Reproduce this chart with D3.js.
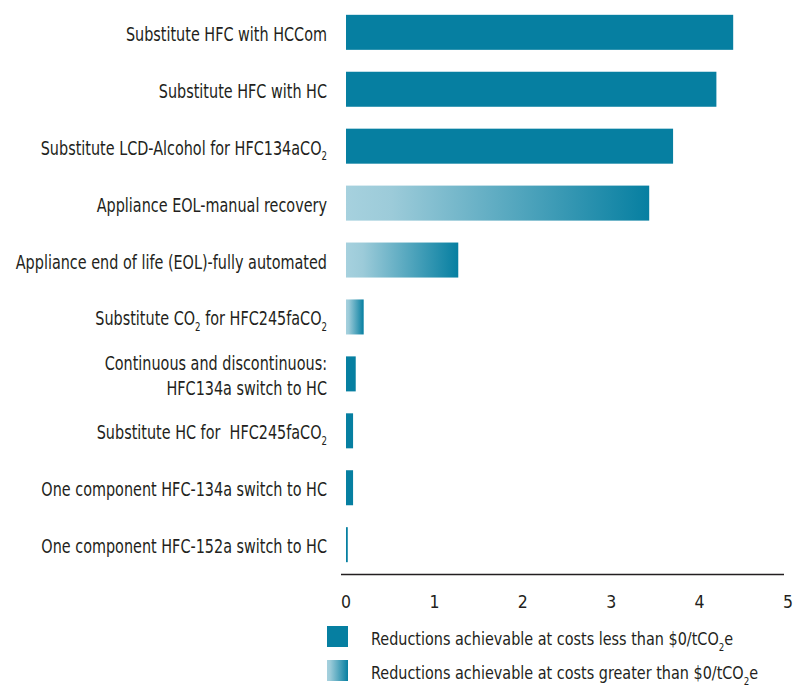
<!DOCTYPE html>
<html><head><meta charset="utf-8">
<script src="https://cdn.jsdelivr.net/npm/d3@7"></script>
<style>
body{margin:0;background:#fff;}
text{font-family:"Liberation Sans Narrow","DejaVu Sans Condensed","Roboto Condensed",sans-serif;font-stretch:condensed;fill:#231f20;white-space:pre;}
</style></head>
<body><svg id="chart" width="795" height="686"></svg>
<script>
// Category labels: arrays of lines; each line is a list of [text, isSubscript] pieces
const categories = [
  [[["Substitute HFC with HCCom",0]]],
  [[["Substitute HFC with HC",0]]],
  [[["Substitute LCD-Alcohol for HFC134aCO",0],["2",1]]],
  [[["Appliance EOL-manual recovery",0]]],
  [[["Appliance end of life (EOL)-fully automated",0]]],
  [[["Substitute CO",0],["2",1],[" for HFC245faCO",0],["2",1]]],
  [[["Continuous and discontinuous:",0]],[["HFC134a switch to HC",0]]],
  [[["Substitute HC for  HFC245faCO",0],["2",1]]],
  [[["One component HFC-134a switch to HC",0]]],
  [[["One component HFC-152a switch to HC",0]]]
];
const values = [4.38, 4.19, 3.70, 3.43, 1.27, 0.20, 0.11, 0.08, 0.08, 0.02];
const costType = ["neg","neg","neg","pos","pos","pos","neg","neg","neg","neg"]; // neg: < $0/tCO2e
const xTicks = [0,1,2,3,4,5];
const legendItems = [
  {type:"neg", parts:[["Reductions achievable at costs less than $0/tCO",0],["2",1],["e",0]]},
  {type:"pos", parts:[["Reductions achievable at costs greater than $0/tCO",0],["2",1],["e",0]]}
];

const svg = d3.select("#chart");
const dark = "#067fa1", light = "#a6d1de";
const defs = svg.append("defs");
const grad = defs.append("linearGradient").attr("id","g").attr("x1","0%").attr("x2","100%");
grad.append("stop").attr("offset","0%").attr("stop-color",light);
grad.append("stop").attr("offset","15%").attr("stop-color","#9ccbd9");
grad.append("stop").attr("offset","100%").attr("stop-color",dark);

const x = d3.scaleLinear().domain([0,5]).range([346,788]);
const y = d3.scaleBand().domain(d3.range(categories.length)).range([4,573]).paddingInner(0.385).paddingOuter(0.19);

function writeParts(t, parts, fs){
  let lowered = false;
  parts.forEach(([s,sub])=>{
    if(sub){
      t.append("tspan").attr("font-size",fs*0.6).attr("dy",fs*0.3).text(s);
      lowered = true;
    } else {
      const sp = t.append("tspan").text(s);
      if(lowered){ sp.attr("dy",-fs*0.3); lowered=false; }
    }
  });
}

const fs = 19, sx = 0.843;
const lfs = 18.5, lsx = 0.866;
// bars
svg.append("g").selectAll("rect").data(values).join("rect")
  .attr("x", x(0))
  .attr("y",(d,i)=>y(i))
  .attr("width",d=>Math.max(1.5,x(d)-x(0)))
  .attr("height",y.bandwidth())
  .attr("fill",(d,i)=>costType[i]==="neg"?dark:"url(#g)");

// labels
const lab = svg.append("g");
categories.forEach((lines,i)=>{
  const cy = y(i)+y.bandwidth()/2;
  const n = lines.length;
  lines.forEach((parts,j)=>{
    const t = lab.append("text")
      .attr("transform",`translate(327,${cy+8.5+(j-(n-1)/2)*25}) scale(${sx},1)`)
      .attr("text-anchor","end").attr("font-size",fs);
    writeParts(t,parts,fs);
  });
});

// axis
const axis = svg.append("g").attr("transform","translate(0,574.5)");
axis.append("line").attr("x1",341).attr("x2",784).attr("stroke","#231f20").attr("stroke-width",1.3);
axis.selectAll("text.tick").data(xTicks).join("text").attr("class","tick")
  .attr("x",d=>x(d)).attr("y",33.5).attr("text-anchor","middle").attr("font-size",17.5).text(d=>d);

// legend
const lg = svg.append("g");
legendItems.forEach((it,i)=>{
  const yy = 626 + i*34;
  lg.append("rect").attr("x",327).attr("y",yy).attr("width",21).attr("height",21)
    .attr("fill",it.type==="neg"?dark:"url(#g)");
  const t = lg.append("text").attr("transform",`translate(371,${yy+19}) scale(${lsx},1)`).attr("font-size",lfs);
  writeParts(t,it.parts,lfs);
});
</script></body></html>
